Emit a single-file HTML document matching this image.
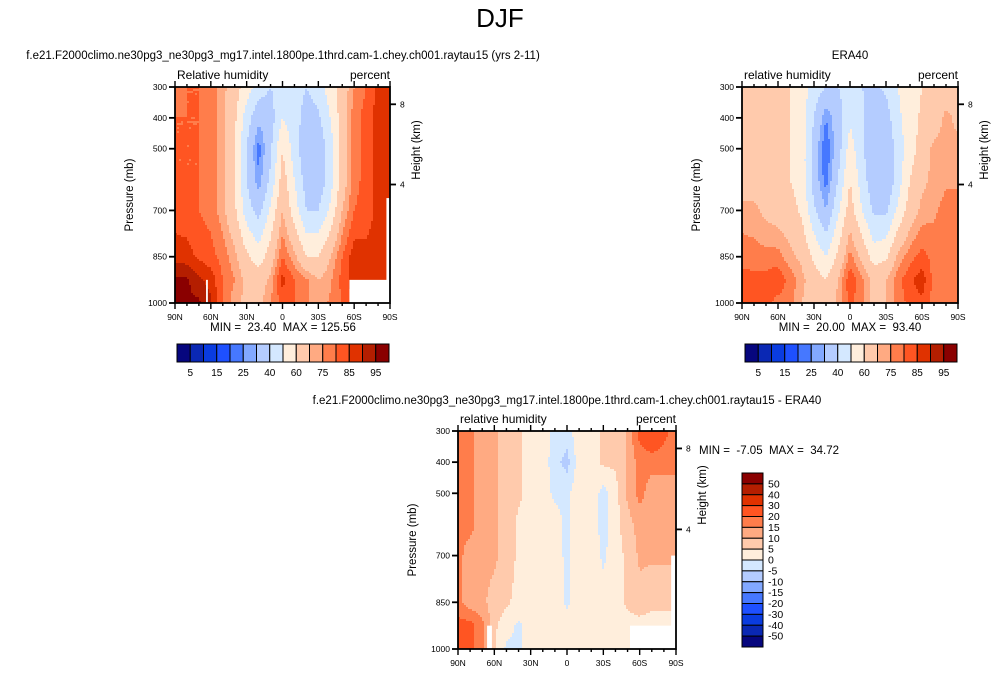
<!DOCTYPE html>
<html><head><meta charset="utf-8">
<style>
html,body{margin:0;padding:0;background:#fff;}
svg{display:block;font-family:"Liberation Sans",sans-serif;}
text{white-space:pre;}
</style></head>
<body>
<svg id="fig" width="1000" height="673" viewBox="0 0 1000 673" xmlns="http://www.w3.org/2000/svg">
<text x="500" y="27" font-size="26" text-anchor="middle">DJF</text>
<text x="283" y="59" font-size="11.5" text-anchor="middle">f.e21.F2000climo.ne30pg3_ne30pg3_mg17.intel.1800pe.1thrd.cam-1.chey.ch001.raytau15 (yrs 2-11)</text>
<text x="850" y="59" font-size="11.5" text-anchor="middle">ERA40</text>
<text x="567" y="404" font-size="11.5" text-anchor="middle">f.e21.F2000climo.ne30pg3_ne30pg3_mg17.intel.1800pe.1thrd.cam-1.chey.ch001.raytau15 - ERA40</text>
<g id="layer"></g>
</svg>
<script>
// ---- data ----
const lats = [90,80,70,60,50,40,30,20,10,0,-10,-20,-30,-40,-50,-60,-70,-80,-90];
const levs = [300,400,500,600,700,850,925,1000];
const modelRH = [
[75,80,80,78,72,65,55,45,40,45,45,40,45,55,65,75,80,87,87],
[80,80,80,78,72,62,45,32,35,50,45,35,38,50,65,78,82,87,87],
[80,80,80,78,72,60,40,22,38,60,45,32,32,45,65,78,82,87,87],
[80,80,80,78,72,60,40,26,42,65,50,35,32,45,65,78,82,87,87],
[82,82,80,78,72,62,45,36,52,70,55,40,40,52,70,80,82,87,87],
[88,87,84,82,78,72,62,55,65,80,72,60,60,70,80,88,87,87,87],
[96,96,91,88,80,75,68,65,72,87,80,76,70,74,82,87,87,87,87],
[96,96,96,91,80,72,68,68,75,82,80,76,72,76,80,87,87,87,87]];
const eraRH = [
[62,65,65,62,60,55,45,40,40,45,40,38,42,50,55,60,62,65,65],
[62,65,65,62,60,55,40,25,35,48,42,32,35,48,55,62,65,72,68],
[65,65,65,62,60,55,35,20,35,55,42,30,30,45,55,65,72,72,72],
[65,65,65,62,60,55,35,22,40,60,45,32,30,45,60,68,72,74,74],
[72,72,68,66,64,58,42,30,48,65,50,38,38,52,65,72,74,77,77],
[78,77,77,77,72,68,58,50,62,77,68,55,58,72,78,82,78,78,78],
[82,82,82,84,78,72,65,60,70,84,76,68,70,78,84,88,78,78,78],
[82,82,82,78,77,70,64,64,72,82,76,66,70,77,82,84,78,78,78]];
const diffRH = [
[20,17,12,11,8,6,3,3,-2,-2,3,3,6,6,11,22,27,22,17],
[18,17,12,11,8,6,3,3,-3,-7,3,3,6,6,11,17,17,17,17],
[17,17,12,11,8,6,3,2,-1,-1,3,3,-2,3,11,17,12,12,12],
[17,17,12,11,8,4,3,2,2,-1,3,3,-2,3,8,12,12,12,12],
[17,12,12,11,8,4,2,2,2,-1,3,3,-1,3,6,11,11,11,11],
[17,12,11,8,6,3,2,3,3,-1,3,3,2,3,6,8,6,6,6],
[22,22,17,6,2,-1,2,3,3,3,3,3,2,2,3,3,3,3,3],
[27,22,17,6,-1,-1,2,3,3,3,3,3,3,3,3,3,3,3,3]];
const rhLevels = [5,10,15,20,25,30,40,50,60,70,75,80,85,90,95];
const rhTickLabels = ["5","15","25","40","60","75","85","95"];
const diffLevels = [-50,-40,-30,-20,-15,-10,-5,0,5,10,15,20,30,40,50];
const diffTickLabels = ["50","40","30","20","15","10","5","0","-5","-10","-15","-20","-30","-40","-50"];
const pTicks = [300,400,500,700,850,1000];
const latTicks = [[90,"90N"],[60,"60N"],[30,"30N"],[0,"0"],[-30,"30S"],[-60,"60S"],[-90,"90S"]];
const colors = ["#06067e","#0a28b4","#0a3ce0","#1e50ff","#4678ff","#82a8ff","#b4ccff","#d4e8ff","#ffeedc","#ffcaac","#ffaa82","#ff7d4b","#ff5522","#e03200","#b41e00","#8a0000"];

const NS="http://www.w3.org/2000/svg";
const layer=document.getElementById('layer');
function el(tag,attrs,parent){const e=document.createElementNS(NS,tag);for(const k in attrs)e.setAttribute(k,attrs[k]);(parent||layer).appendChild(e);return e;}
function txt(x,y,s,size,anchor,parent){const t=el('text',{x:x,y:y,'font-size':size,'text-anchor':anchor||'middle'},parent);t.textContent=s;return t;}
function bin(v,lv){let i=0;while(i<lv.length&&v>=lv[i])i++;return i;}
function sample(grid,lat,p){
  let i=0;while(i<lats.length-2&&lat<lats[i+1])i++;
  const fx=(lats[i]-lat)/(lats[i]-lats[i+1]);
  let j=0;while(j<levs.length-2&&p>levs[j+1])j++;
  const fy=(p-levs[j])/(levs[j+1]-levs[j]);
  const a=grid[j][i],b=grid[j][i+1],c=grid[j+1][i],d=grid[j+1][i+1];
  return a*(1-fx)*(1-fy)+b*fx*(1-fy)+c*(1-fx)*fy+d*fx*fy;
}
function panel(name,x0,y0,w,h,grid,lv,left,right,masks){
  const g=el('g',{});
  
  
  const xs=lat=>x0+(90-lat)/180*w;
  const ys=p=>y0+(p-300)/700*h;
  const step=2;
  for(let py=0;py<h;py+=step){
    const p=300+(py+step/2)/h*700;
    let run=null,rx=0;
    const flush=(end)=>{const r=el('rect',{x:x0+rx,y:y0+py,width:end-rx+0.5,height:step+0.5,fill:run},g);
      };
    for(let px=0;px<w;px+=step){
      const lat=90-Math.min(px+step/2,w)/w*180;
      const c=colors[bin(sample(grid,lat,p),lv)];
      if(c!==run){ if(run!==null) flush(px); run=c; rx=px; }
    }
    if(run!==null) flush(w);
  }
  masks.forEach(m=>{el('rect',{x:xs(m[0]),y:ys(m[2]),width:xs(m[1])-xs(m[0]),height:ys(1000)-ys(m[2])+1,fill:'#fff'},g);});
  const f=el('rect',{x:x0,y:y0,width:w,height:h,fill:'none',stroke:'#000','stroke-width':1.8},g);
  
  pTicks.forEach(p=>{const y=ys(p);el('line',{x1:x0-6,x2:x0,y1:y,y2:y,stroke:'#000','stroke-width':1.8},g);
    txt(x0-8,y+3,String(p),8.5,'end',g);});
  [[8,ys(356)],[4,ys(616)]].forEach(t=>{el('line',{x1:x0+w,x2:x0+w+6,y1:t[1],y2:t[1],stroke:'#000','stroke-width':1.8},g);
    txt(x0+w+10,t[1]+3,String(t[0]),8.5,'start',g);});
  for(let l=90;l>=-90;l-=10){const x=xs(l);const major=l%30===0;const L=major?6:3;
    el('line',{x1:x,x2:x,y1:y0+h,y2:y0+h+L,stroke:'#000','stroke-width':1.4},g);
    el('line',{x1:x,x2:x,y1:y0,y2:y0-L,stroke:'#000','stroke-width':1.4},g);}
  latTicks.forEach(t=>txt(xs(t[0]),y0+h+17,t[1],8.5,'middle',g));
  const yl=txt(x0-42,y0+h/2,'Pressure (mb)',11.5,'middle',g);yl.setAttribute('transform',`rotate(-90 ${x0-42} ${y0+h/2})`);
  
  const hx=x0+w+30;const hl=txt(hx,y0+h/2-45,'Height (km)',11.5,'middle',g);hl.setAttribute('transform',`rotate(-90 ${hx} ${y0+h/2-45})`);
  
  txt(x0+2,y0-8,left,12,'start',g);
  txt(x0+w,y0-8,right,12,'end',g);
}
function hbar(x0,y0,w,h){
  const n=colors.length,bw=w/n;
  colors.forEach((c,i)=>{const r=el('rect',{x:x0+i*bw,y:y0,width:bw,height:h,fill:c,stroke:'#000','stroke-width':1});
    });
  rhTickLabels.forEach((s,k)=>txt(x0+(2*k+1)*bw,y0+h+14,s,10,'middle'));
}
panel('model-panel',175,87,215,216,modelRH,rhLevels,'Relative humidity','percent',[[64,62.5,925],[-56,-90,925],[-87,-90,660]]);
panel('era-panel',742,87,216,216,eraRH,rhLevels,'relative humidity','percent',[]);
panel('diff-panel',458,431,218,218,diffRH,diffLevels,'relative humidity','percent',[[66,62,925],[-52,-90,925],[-86,-90,700]]);
hbar(177,344,212,18);
hbar(745,344,212,18);
txt(283,331,'MIN =  23.40  MAX = 125.56',11.5,'middle');
txt(850,331,'MIN =  20.00  MAX =  93.40',11.5,'middle');
txt(699,454,'MIN =  -7.05  MAX =  34.72',11.5,'start');
const vx=742,vy=473,vw=21,vh=174,vb=vh/colors.length;
colors.slice().reverse().forEach((c,i)=>{const r=el('rect',{x:vx,y:vy+i*vb,width:vw,height:vb,fill:c,stroke:'#000','stroke-width':1});
  });
diffTickLabels.forEach((s,k)=>txt(vx+vw+5,vy+(k+1)*vb+3.5,s,10.5,'start'));
</script>
</body></html>
